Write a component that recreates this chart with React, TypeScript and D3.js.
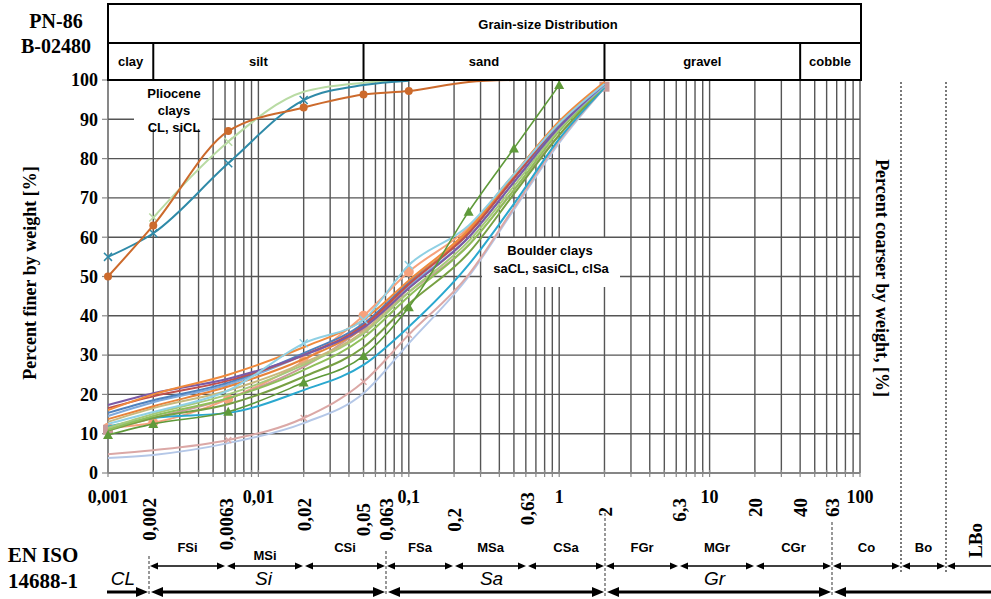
import React from "react";
import * as d3 from "d3";

// ---------- DATA ----------
const yTicks = [0, 10, 20, 30, 40, 50, 60, 70, 80, 90, 100];
const xTickValues = [0.001, 0.01, 0.1, 1, 10, 100];
const xTickLabels = ["0,001", "0,01", "0,1", "1", "10", "100"];

const headerClasses = ["clay", "silt", "sand", "gravel", "cobble"];
const headerBounds = [0.001, 0.002, 0.05, 2, 40, 100];

// Pliocene clays
const plioOrangeSizes = [0.001, 0.002, 0.0063, 0.02, 0.05, 0.1, 0.25, 0.5];
const plioOrange = [50, 63, 87, 93, 96.3, 97.2, 99.5, 100];
const plioGreenSizes = [0.002, 0.0063, 0.02, 0.05, 0.1];
const plioGreen = [65, 84.3, 97, 99.3, 100];
const plioTealSizes = [0.001, 0.002, 0.0063, 0.02, 0.05, 0.1];
const plioTeal = [55, 61, 78.8, 94.9, 98.7, 99.8];

// Boulder clays (sieve sizes, mm)
const bcSizes = [0.001, 0.002, 0.0063, 0.02, 0.05, 0.1, 0.25, 0.5, 1, 2];
const bcLavender = [3.8, 4.6, 7.6, 12.7, 20.3, 33, 50, 67, 84, 98];
const bcRose = [4.8, 5.8, 8.4, 14, 23.2, 35.2, 50.5, 67.5, 84.5, 98];
const bcAqua = [11.8, 14, 15.3, 21.1, 27.5, 37.2, 53, 68.5, 85, 98];
const bcGreenA = [10.8, 14, 17.5, 24.5, 32, 43, 56, 71, 86, 98.5];
const bcGreenB = [11, 14.5, 19, 26.2, 34.4, 45, 58, 72, 87, 98.5];
const bcGreenC = [11.5, 15, 20, 27.5, 35.5, 46, 59, 73, 87.5, 99];
const bcOlive = [13, 16.5, 21, 28, 36, 47, 60, 74, 88, 98.5];
const bcPinkSq = [11, 14, 19, 27, 36.9, 46, 58, 72, 86, 98.3];
const bcLightBlue = [14.5, 18, 22.5, 30, 37, 47.5, 60, 74, 88, 98.5];
const bcBlue = [15.3, 18.5, 23, 30.5, 38, 48.5, 61, 75, 88.5, 99];
const bcDarkOrange = [13.7, 17, 22, 29, 37, 48, 61.5, 75.5, 89, 99];
const bcRed = [16.5, 19.5, 23.5, 30, 37.5, 48, 61, 75, 89, 99];
const bcPurple = [17.3, 20.3, 24, 30, 37, 47, 60, 74, 88, 99];
const bcOrange = [16, 20, 25, 32, 39, 49, 62, 76, 89.5, 99.5];
const bcLightAqua = [12.5, 15.5, 21, 33, 39, 52.9, 63, 76, 89, 99];
const bcSalmon = [11.5, 12.8, 18.8, 28.5, 40, 51.2, 62.5, 76, 89, 99];
const bcSteepSizes = [0.001, 0.002, 0.0063, 0.02, 0.05, 0.1, 0.25, 0.5, 1];
const bcSteep = [9.7, 12.5, 15.6, 23, 29.8, 42.2, 66.5, 82.6, 98.7];

// EN ISO 14688-1
const isoTickLabels = ["0,002", "0,0063", "0,02", "0,05", "0,063", "0,2", "0,63", "2", "6,3", "20", "40", "63"];
const isoTickValues = [0.002, 0.0063, 0.02, 0.05, 0.063, 0.2, 0.63, 2, 6.3, 20, 40, 63];
const isoSubBounds = [0.002, 0.0063, 0.02, 0.063, 0.2, 0.63, 2, 6.3, 20, 63, 200, 630];
const isoSubLabels = ["FSi", "MSi", "CSi", "FSa", "MSa", "CSa", "FGr", "MGr", "CGr", "Co", "Bo"];
const isoMainBounds = [0.001, 0.002, 0.063, 2, 63];
const isoMainLabels = ["CL", "Si", "Sa", "Gr"];

type Series = {
  sizes: number[]; values: number[]; color: string; width: number;
  marker?: string; msize?: number; mFrom?: number; mTo?: number; mAt?: number[];
};

const boulderSeries: Series[] = [
  { sizes: bcSizes, values: bcSalmon, color: "#f7a27c", width: 2, marker: "circle", msize: 5, mTo: 0.1 },
  { sizes: bcSizes, values: bcPinkSq, color: "#c99a9a", width: 2, marker: "square", msize: 5, mAt: [0.001, 0.05, 2] },
  { sizes: bcSizes, values: bcLavender, color: "#b4c7e7", width: 2 },
  { sizes: bcSizes, values: bcRose, color: "#dba8a6", width: 2, marker: "x", msize: 3, mFrom: 0.005, mTo: 0.1 },
  { sizes: bcSizes, values: bcAqua, color: "#2aa8cf", width: 2 },
  { sizes: bcSizes, values: bcGreenA, color: "#77a043", width: 2 },
  { sizes: bcSizes, values: bcGreenB, color: "#8fbf5a", width: 2 },
  { sizes: bcSizes, values: bcGreenC, color: "#a6c97a", width: 2 },
  { sizes: bcSizes, values: bcOlive, color: "#c7b97d", width: 2 },
  { sizes: bcSizes, values: bcLightBlue, color: "#7fa9dc", width: 2 },
  { sizes: bcSizes, values: bcBlue, color: "#4f81bd", width: 2 },
  { sizes: bcSizes, values: bcDarkOrange, color: "#e8833a", width: 2 },
  { sizes: bcSizes, values: bcRed, color: "#c0504d", width: 2 },
  { sizes: bcSizes, values: bcPurple, color: "#7a5aa6", width: 2 },
  { sizes: bcSizes, values: bcOrange, color: "#f08a3c", width: 2 },
  { sizes: bcSizes, values: bcLightAqua, color: "#8fd0e4", width: 2, marker: "x", msize: 4, mFrom: 0.01, mTo: 0.1 },
  { sizes: bcSteepSizes, values: bcSteep, color: "#5f9a3a", width: 1.6, marker: "triangle", msize: 5 },
];

const plioSeries: Series[] = [
  { sizes: plioGreenSizes, values: plioGreen, color: "#b9dba4", width: 2, marker: "x", msize: 4, mTo: 0.0063 },
  { sizes: plioTealSizes, values: plioTeal, color: "#2f8aa8", width: 2, marker: "x", msize: 4, mTo: 0.02 },
  { sizes: plioOrangeSizes, values: plioOrange, color: "#cc6a2c", width: 2, marker: "circle", msize: 4, mTo: 0.1 },
];

// ---------- LAYOUT ----------
const W = 991, H = 599;
const x = d3.scaleLog().domain([0.001, 100]).range([108, 860]);
const y = d3.scaleLinear().domain([0, 100]).range([473, 80]);
const isoX = d3.scaleLog()
  .domain([0.001, ...isoSubBounds])
  .range([105, 149, 226, 304, 386, 454, 527, 605, 679, 755, 832, 901, 946]);

const minorValues: number[] = [];
for (let e = -3; e <= 1; e++) for (let k = 1; k <= 9; k++) minorValues.push(+(k * Math.pow(10, e)).toPrecision(3));
minorValues.push(100);

const TIMES = "'Liberation Serif', 'Times New Roman', serif";
const ARIAL = "'Liberation Sans', Arial, sans-serif";
const GRID = "#555";

function Marker({ type, cx, cy, s, color }: { type: string; cx: number; cy: number; s: number; color: string }) {
  if (type === "circle") return <circle cx={cx} cy={cy} r={s} fill={color} />;
  if (type === "square") return <rect x={cx - s} y={cy - s} width={2 * s} height={2 * s} fill={color} />;
  if (type === "triangle")
    return <path d={`M${cx},${cy - s}L${cx + s},${cy + s * 0.8}L${cx - s},${cy + s * 0.8}Z`} fill={color} />;
  return (
    <path d={`M${cx - s},${cy - s}L${cx + s},${cy + s}M${cx - s},${cy + s}L${cx + s},${cy - s}`} stroke={color} strokeWidth={1.5} />
  );
}

function SeriesPath({ s }: { s: Series }) {
  const pts = s.sizes.map((d, i) => [x(d), y(s.values[i])] as [number, number]);
  const line = d3.line().curve(d3.curveMonotoneX);
  const from = s.mFrom ?? 0, to = s.mTo ?? Infinity;
  const show = (d: number) => (s.mAt ? s.mAt.includes(d) : d >= from && d <= to);
  return (
    <g>
      <path d={line(pts) || ""} fill="none" stroke={s.color} strokeWidth={s.width} />
      {s.marker &&
        pts.map((p, i) =>
          show(s.sizes[i]) ? <Marker key={i} type={s.marker!} cx={p[0]} cy={p[1]} s={s.msize || 4} color={s.color} /> : null
        )}
    </g>
  );
}

function Arrow({ x1, x2, yy, left, right, w, head, hw }: { x1: number; x2: number; yy: number; left: boolean; right: boolean; w: number; head: number; hw: number }) {
  return (
    <g>
      <line x1={left ? x1 + head * 0.8 : x1} x2={right ? x2 - head * 0.8 : x2} y1={yy} y2={yy} stroke="#000" strokeWidth={w} />
      {left && <path d={`M${x1},${yy}L${x1 + head},${yy - hw}L${x1 + head},${yy + hw}Z`} fill="#000" />}
      {right && <path d={`M${x2},${yy}L${x2 - head},${yy - hw}L${x2 - head},${yy + hw}Z`} fill="#000" />}
    </g>
  );
}

const isoTopOverride: Record<string, number> = { "0,05": 503, "0,2": 508, "2": 507, "0,63": 492 };

export default function App() {
  const plotTop = y(100), plotBottom = y(0);
  return (
    <svg width={W} height={H} style={{ position: "absolute", left: 0, top: 0, background: "#fff" }} xmlns="http://www.w3.org/2000/svg">
      <rect width={W} height={H} fill="#fff" />
      {/* Grid */}
      {minorValues.map((v) => (
        <line key={"v" + v} x1={x(v)} x2={x(v)} y1={plotTop} y2={plotBottom} stroke={GRID} strokeWidth={1.4} />
      ))}
      {yTicks.map((t) => (
        <line key={"h" + t} x1={x(0.001)} x2={x(100)} y1={y(t)} y2={y(t)} stroke={GRID} strokeWidth={1.4} />
      ))}
      {/* x axis */}
      <line x1={x(0.001)} x2={x(100)} y1={plotBottom} y2={plotBottom} stroke="#888" strokeWidth={1.5} />
      {minorValues.map((v) => (
        <line key={"t" + v} x1={x(v)} x2={x(v)} y1={plotBottom - 3} y2={plotBottom + 4} stroke="#888" strokeWidth={1.2} />
      ))}
      {yTicks.map((t) => (
        <line key={"yt" + t} x1={x(0.001) - 6} x2={x(0.001)} y1={y(t)} y2={y(t)} stroke="#888" strokeWidth={1.2} />
      ))}
      {yTicks.map((t) => (
        <text key={"yl" + t} x={98} y={y(t)} dy="0.35em" textAnchor="end" fontFamily={TIMES} fontWeight="bold" fontSize={18}>
          {t}
        </text>
      ))}
      {xTickValues.map((v, i) => (
        <text key={"xl" + v} x={x(v)} y={503} textAnchor="middle" fontFamily={TIMES} fontWeight="bold" fontSize={18}>
          {xTickLabels[i]}
        </text>
      ))}

      {/* label boxes */}
      <rect x={134} y={plotTop + 1} width={78} height={48} fill="#fff" />
      <g fontFamily={ARIAL} fontWeight="bold" fontSize={13} textAnchor="middle">
        <text x={174} y={98}>Pliocene</text>
        <text x={174} y={115}>clays</text>
        <text x={174} y={132}>CL, siCL</text>
      </g>
      <rect x={482} y={238} width={138} height={49} fill="#fff" />
      <g fontFamily={ARIAL} fontWeight="bold" fontSize={13} textAnchor="middle">
        <text x={550} y={255}>Boulder clays</text>
        <text x={551} y={273}>saCL, sasiCL, clSa</text>
      </g>

      {/* Curves */}
      {boulderSeries.map((s, i) => <SeriesPath key={"b" + i} s={s} />)}
      {plioSeries.map((s, i) => <SeriesPath key={"p" + i} s={s} />)}

      {/* Header */}
      <rect x={x(0.001)} y={4} width={x(100) + 1 - x(0.001)} height={plotTop - 4} fill="#fff" stroke="#000" strokeWidth={2} />
      <line x1={x(0.001)} x2={x(100) + 1} y1={43} y2={43} stroke="#000" strokeWidth={2} />
      {headerBounds.slice(1, -1).map((b) => (
        <line key={"hb" + b} x1={x(b)} x2={x(b)} y1={43} y2={plotTop} stroke="#000" strokeWidth={2} />
      ))}
      <text x={548} y={29} textAnchor="middle" fontFamily={ARIAL} fontWeight="bold" fontSize={13}>Grain-size Distribution</text>
      {headerClasses.map((c, i) => (
        <text key={c} x={(x(headerBounds[i]) + x(headerBounds[i + 1])) / 2} y={66} textAnchor="middle" fontFamily={ARIAL} fontWeight="bold" fontSize={13}>
          {c}
        </text>
      ))}

      {/* Titles */}
      <g fontFamily={TIMES} fontWeight="bold" fontSize={20} textAnchor="middle">
        <text x={56} y={28}>PN-86</text>
        <text x={56} y={53}>B-02480</text>
      </g>
      <text transform="translate(36,273) rotate(-90)" textAnchor="middle" fontFamily={TIMES} fontWeight="bold" fontSize={18}>
        Percent finer by weight [%]
      </text>
      <text transform="translate(876,278) rotate(90)" textAnchor="middle" fontFamily={TIMES} fontWeight="bold" fontSize={18}>
        Percent coarser by weight, [%]
      </text>

      {/* Dotted separators Co/Bo/LBo */}
      {isoSubBounds.slice(-2).map((b) => (
        <line key={"dl" + b} x1={isoX(b)} x2={isoX(b)} y1={82} y2={572} stroke="#333" strokeWidth={1.3} strokeDasharray="2,2" />
      ))}

      {/* EN ISO band */}
      <g fontFamily={TIMES} fontWeight="bold" fontSize={21} textAnchor="middle">
        <text x={43} y={562}>EN ISO</text>
        <text x={43} y={588}>14688-1</text>
      </g>
      {isoTickLabels.map((l, i) => {
        const v = isoTickValues[i];
        const px = isoSubBounds.includes(v) ? isoX(v) : x(v);
        const top = isoTopOverride[l] ?? 498;
        return (
          <text key={"it" + l} transform={`translate(${px},${top}) rotate(-90)`} dy="0.35em" textAnchor="end" fontFamily={TIMES} fontWeight="bold" fontSize={19}>
            {l}
          </text>
        );
      })}
      <text transform={`translate(${isoX(630) + 29},523) rotate(-90)`} dy="0.35em" textAnchor="end" fontFamily={TIMES} fontWeight="bold" fontSize={19}>
        LBo
      </text>
      {[0.002, 0.063, 2, 63].map((b, i) => (
        <line key={"dash" + b} x1={isoX(b)} x2={isoX(b)} y1={[556, 551, 513, 522][i]} y2={596} stroke="#555" strokeWidth={1.2} strokeDasharray="3,2" />
      ))}
      {isoSubLabels.map((l, i) => (
        <text key={"sl" + l} x={(isoX(isoSubBounds[i]) + isoX(isoSubBounds[i + 1])) / 2} y={l === "MSi" ? 560 : 552} textAnchor="middle" fontFamily={ARIAL} fontWeight="bold" fontSize={13}>
          {l}
        </text>
      ))}
      {isoSubLabels.map((l, i) => (
        <Arrow key={"a1" + l} x1={isoX(isoSubBounds[i]) + 1} x2={isoX(isoSubBounds[i + 1]) - 1} yy={566} left right w={1.5} head={8} hw={3.5} />
      ))}
      <Arrow x1={isoX(630) + 1} x2={W + 10} yy={566} left right={false} w={1.5} head={8} hw={3.5} />
      {isoMainLabels.map((l, i) => (
        <text key={"ml" + l} x={(isoX(isoMainBounds[i]) + isoX(isoMainBounds[i + 1])) / 2 - 4} y={585} textAnchor="middle" fontFamily={ARIAL} fontStyle="italic" fontSize={19}>
          {l}
        </text>
      ))}
      {isoMainLabels.map((l, i) => (
        <Arrow key={"a2" + l} x1={isoX(isoMainBounds[i]) + 2} x2={isoX(isoMainBounds[i + 1]) - 1} yy={592} left={i > 0} right w={3} head={12} hw={5} />
      ))}
      <Arrow x1={isoX(63) + 2} x2={W + 10} yy={592} left right={false} w={3} head={12} hw={5} />
    </svg>
  );
}
